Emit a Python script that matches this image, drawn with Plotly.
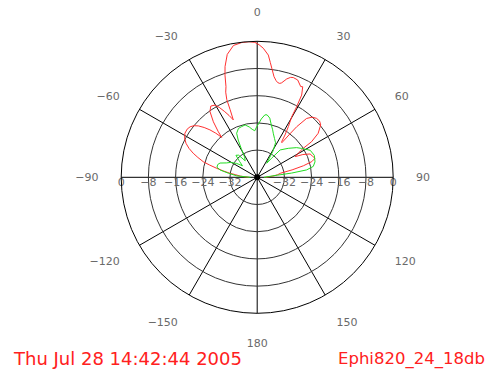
import plotly.graph_objects as go

# Antenna pattern cuts, gain in dB vs azimuth in degrees (0 = boresight, clockwise)
theta_red = [-90, -86, -83, -81.6, -79.5, -77.5, -75.5, -73.9, -71.5, -69.4, -67, -64.5,
             -61.5, -58.6, -55.5, -53, -50.8, -48.9, -46.8, -44.9, -43.2, -41.6, -40.5,
             -38.3, -35.7, -33.1, -30.3, -28.5, -26.5, -24.5, -22.6, -21.8, -21.4, -20.3,
             -19, -17.5, -16.2, -13.7, -10.2, -6.5, -3.5, -1, 0.8, 2.7, 5.2, 6.5, 7.6, 9.5,
             11, 12.2, 13.5, 14.5, 16.7, 18.5, 19.9, 22.6, 25.6, 26.7, 28.4, 29.2, 29.7,
             31.6, 33.3, 34.5, 35.5, 37, 38, 40, 42.5, 45.2, 48, 50.5, 54.2, 56.8, 57.8,
             59.5, 61.4, 63.5, 66.2, 69, 71.8, 74, 76, 78, 80, 83, 86, 90]
db_red = [-37.5, -35, -33.5, -31.9, -30, -27.8, -25.5, -23.5, -21.6, -19.9, -18.2, -16.8,
          -15.7, -15.1, -15.0, -15.3, -16.0, -17.0, -18.6, -20.3, -22.2, -24.3, -22.4,
          -19.2, -16.2, -15.0, -15.4, -16.6, -18.3, -20.0, -21.7, -18.5, -15.5, -13.3,
          -11.8, -8.5, -6.1, -2.8, -0.6, -0.1, -0.05, -0.3, -1.0, -2.0, -3.9, -6.0, -7.6,
          -10.0, -11.0, -11.5, -11.6, -11.3, -9.8, -9.0, -8.8, -9.0, -10.4, -10.2, -12.5,
          -16.2, -19.5, -22.5, -25.1, -27.3, -27.5, -24.0, -21.1, -17.4, -16.0, -15.4,
          -15.3, -15.8, -17.9, -20.9, -24.0, -26.0, -27.3, -25.0, -23.0, -22.6, -22.1,
          -23.3, -26.0, -29.5, -33.0, -34.0, -35.5, -37.5]

theta_green = [-90, -86, -82, -79, -76, -72, -69, -65, -61, -56, -52, -48, -44, -40, -36,
               -32, -29, -27, -25, -21, -17, -13, -9, -6, -3, -0.5, 2, 4, 7, 9, 12, 15, 18,
               20, 24, 28, 31, 34, 37, 40, 47, 53, 57, 63, 69, 75, 79, 81.5, 83, 84, 86, 90]
db_green = [-38, -34, -31.5, -29, -27.8, -27.8, -28.3, -30, -31, -32.7, -34.5, -33, -31,
            -31.5, -34, -33, -30.3, -27.7, -25.7, -24.6, -24.4, -24.2, -25, -25.8, -26.3,
            -25.1, -24, -22.8, -21.5, -21.4, -22.2, -24, -25.3, -26.2, -27.5, -28.5, -31,
            -35, -33, -29.5, -27.5, -25.5, -24.4, -22.5, -22, -22.4, -23.2, -25.3, -29.8,
            -34, -36.5, -38]

ring_values = [-32, -24, -16, -8, 0]
ring_labels = ["\u221232", "\u221224", "\u221216", "\u22128", "0"]
angle_ticks = [0, 30, 60, 90, 120, 150, 180, 210, 240, 270, 300, 330]
angle_labels = ["0", "30", "60", "90", "120", "150", "180",
                "\u2212150", "\u2212120", "\u221290", "\u221260", "\u221230"]
stamp_text = "Thu Jul 28 14:42:44 2005"
file_text = "Ephi820_24_18db"

R_MIN, R_MAX = -40, 0
label_font = dict(family="DejaVu Sans", size=11, color="#6a6a6a")

fig = go.Figure()
fig.add_trace(go.Scatterpolar(r=db_red, theta=theta_red, mode="lines",
                              line=dict(color="#ff3030", width=1), hoverinfo="skip"))
fig.add_trace(go.Scatterpolar(r=db_green, theta=theta_green, mode="lines",
                              line=dict(color="#22dd22", width=1), hoverinfo="skip"))

# Ring value labels along the horizontal diameter, both sides
for side in (90, -90):
    fig.add_trace(go.Scatterpolar(r=ring_values, theta=[side] * len(ring_values),
                                  mode="text", text=ring_labels,
                                  textposition="bottom center", textfont=label_font,
                                  cliponaxis=False, hoverinfo="skip"))

# Origin marker
fig.add_trace(go.Scatterpolar(r=[R_MIN], theta=[0], mode="markers",
                              marker=dict(color="black", size=6), cliponaxis=False,
                              hoverinfo="skip"))

cx, cy, rad = 257.2, 371 - 177.3, 136.0
fig.update_layout(
    width=488, height=371,
    margin=dict(l=0, r=0, t=0, b=0),
    paper_bgcolor="white",
    showlegend=False,
    polar=dict(
        domain=dict(x=[(cx - rad) / 488, (cx + rad) / 488],
                    y=[(cy - rad) / 371, (cy + rad) / 371]),
        bgcolor="white",
        radialaxis=dict(range=[R_MIN, R_MAX], tickvals=ring_values, showticklabels=False,
                        ticks="", showline=False, gridcolor="#333333", gridwidth=1),
        angularaxis=dict(rotation=90, direction="clockwise", tickmode="array",
                         tickvals=angle_ticks, ticktext=angle_labels,
                         ticks="outside", ticklen=20, tickcolor="rgba(0,0,0,0)",
                         showline=True, linecolor="black", linewidth=1,
                         gridcolor="black", gridwidth=1, tickfont=label_font),
    ),
    annotations=[
        dict(text=stamp_text, x=11 / 488, y=(371 - 358.5) / 371, xref="paper", yref="paper",
             xanchor="left", yanchor="middle", showarrow=False,
             font=dict(family="DejaVu Sans", size=18, color="#ff2020")),
        dict(text=file_text, x=487 / 488, y=(371 - 358.5) / 371, xref="paper", yref="paper",
             xanchor="right", yanchor="middle", showarrow=False,
             font=dict(family="DejaVu Sans", size=16.5, color="#ff2020")),
    ],
)

fig.write_html("out.html")
